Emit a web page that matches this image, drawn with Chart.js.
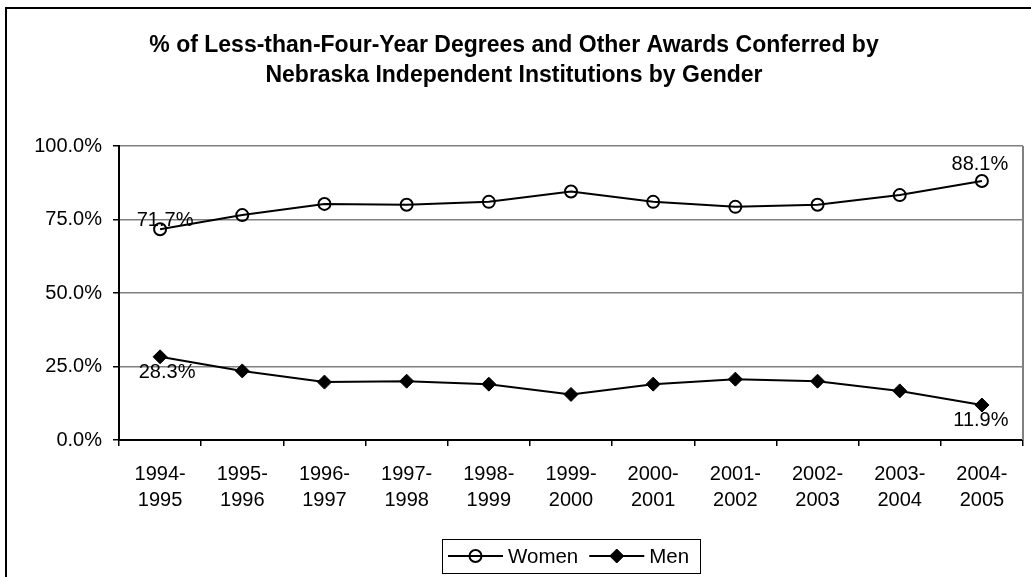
<!DOCTYPE html>
<html>
<head>
<meta charset="utf-8">
<script src="https://cdn.jsdelivr.net/npm/chart.js@4.4.0/dist/chart.umd.min.js"></script>
<style>
html, body { margin: 0; padding: 0; background: #fff; overflow: hidden; }
#wrap { position: relative; width: 1031px; height: 577px; overflow: hidden; }
#frame { position: absolute; left: 5px; top: 7px; width: 1100px; height: 700px; border-left: 2px solid #000; border-top: 2px solid #000; }
#chart { position: absolute; left: 0; top: 0; }
</style>
</head>
<body>
<div id="wrap">
  <div id="frame"></div>
  <canvas id="chart" width="1031" height="577"></canvas>
</div>
<script>
const FONT = "Arial, 'Liberation Sans', sans-serif";

// School years on the x axis (two-line labels)
const categories = [
    ['1994-', '1995'], ['1995-', '1996'], ['1996-', '1997'], ['1997-', '1998'],
    ['1998-', '1999'], ['1999-', '2000'], ['2000-', '2001'], ['2001-', '2002'],
    ['2002-', '2003'], ['2003-', '2004'], ['2004-', '2005']
];
// Share of awards, in percent
const women = [71.7, 76.5, 80.3, 80.0, 81.0, 84.5, 81.0, 79.3, 80.0, 83.3, 88.1];
const men = [28.3, 23.5, 19.7, 20.0, 19.0, 15.5, 19.0, 20.7, 20.0, 16.7, 11.9];
const yMin = 0, yMax = 100, yStep = 25;

const titleLines = [
    '% of Less-than-Four-Year Degrees and Other Awards Conferred by',
    'Nebraska Independent Institutions by Gender'
];

// Only the first and last points carry a value label
const labelSpecs = [
    { ds: 0, i: 0, dx: 5, dy: -9 },
    { ds: 0, i: 10, dx: -2, dy: -17 },
    { ds: 1, i: 0, dx: 7, dy: 16 },
    { ds: 1, i: 10, dx: -1, dy: 15 }
];

const plotFrame = {
    id: 'plotFrame',
    beforeDatasetsDraw(chart) {
        const a = chart.chartArea;
        const ctx = chart.ctx;
        ctx.save();
        ctx.strokeStyle = '#808080';
        ctx.lineWidth = 2;
        ctx.beginPath();
        ctx.moveTo(a.right, a.top);
        ctx.lineTo(a.right, a.bottom);
        ctx.stroke();
        ctx.restore();
    }
};

const valueLabels = {
    id: 'valueLabels',
    afterDatasetsDraw(chart) {
        const ctx = chart.ctx;
        ctx.save();
        ctx.font = '20px ' + FONT;
        ctx.fillStyle = '#000';
        ctx.textAlign = 'center';
        ctx.textBaseline = 'middle';
        labelSpecs.forEach(s => {
            const pt = chart.getDatasetMeta(s.ds).data[s.i];
            const v = chart.data.datasets[s.ds].data[s.i];
            ctx.fillText(v.toFixed(1) + '%', pt.x + s.dx, pt.y + s.dy);
        });
        ctx.restore();
    }
};

// Excel-style legend: line + marker samples inside a bordered box
const boxLegend = {
    id: 'boxLegend',
    afterDraw(chart) {
        const ctx = chart.ctx;
        const a = chart.chartArea;
        ctx.save();
        ctx.font = '20.5px ' + FONT;
        const sample = 55, gap = 5, itemGap = 11, padL = 6, padR = 11;
        const items = chart.data.datasets.map(d => ({ d, w: ctx.measureText(d.label).width }));
        let total = padL + padR;
        items.forEach((it, k) => { total += sample + gap + it.w + (k ? itemGap : 0); });
        const cx = (a.left + a.right) / 2;
        const cy = 556;
        const h = 34;
        let x = Math.round(cx - total / 2);
        ctx.strokeStyle = '#000';
        ctx.lineWidth = 1;
        ctx.strokeRect(x + 0.5, Math.round(cy - h / 2) + 0.5, Math.round(total), h);
        x += padL;
        items.forEach((it, k) => {
            if (k) x += itemGap;
            const d = it.d;
            ctx.strokeStyle = d.borderColor;
            ctx.lineWidth = d.borderWidth;
            ctx.beginPath();
            ctx.moveTo(x, cy);
            ctx.lineTo(x + sample, cy);
            ctx.stroke();
            ctx.fillStyle = d.pointBackgroundColor;
            ctx.strokeStyle = d.pointBorderColor;
            ctx.lineWidth = d.pointBorderWidth;
            Chart.helpers.drawPoint(ctx, {
                pointStyle: d.pointStyle,
                radius: d.pointRadius,
                borderWidth: d.pointBorderWidth,
                rotation: 0
            }, x + sample / 2, cy);
            ctx.fillStyle = '#000';
            ctx.textAlign = 'left';
            ctx.textBaseline = 'middle';
            ctx.fillText(d.label, x + sample + gap, cy + 1);
            x += sample + gap + it.w;
        });
        ctx.restore();
    }
};

const chart = new Chart(document.getElementById('chart'), {
    type: 'line',
    data: {
        labels: categories,
        datasets: [{
            label: 'Women',
            data: women,
            borderColor: '#000',
            borderWidth: 2,
            pointStyle: 'circle',
            pointRadius: 6,
            pointBorderWidth: 2,
            pointBorderColor: '#000',
            pointBackgroundColor: 'rgba(0,0,0,0)',
            tension: 0
        }, {
            label: 'Men',
            data: men,
            borderColor: '#000',
            borderWidth: 2,
            pointStyle: 'rectRot',
            pointRadius: 7,
            pointBorderWidth: 1,
            pointBorderColor: '#000',
            pointBackgroundColor: '#000',
            tension: 0
        }]
    },
    options: {
        responsive: false,
        animation: false,
        layout: { padding: { left: 0, right: 3, top: 0, bottom: 0 } },
        plugins: {
            legend: { display: false },
            tooltip: { enabled: false },
            title: {
                display: true,
                text: titleLines,
                color: '#000',
                font: { family: FONT, size: 23, weight: 'bold', lineHeight: 30 / 23 },
                padding: { top: 31, bottom: 55 }
            }
        },
        scales: {
            x: {
                offset: true,
                grid: {
                    offset: true,
                    drawOnChartArea: false,
                    drawTicks: true,
                    tickLength: 6,
                    tickColor: '#000',
                    lineWidth: 1.5
                },
                border: { color: '#000', width: 2 },
                ticks: {
                    color: '#000',
                    font: { family: FONT, size: 20, lineHeight: 1.33 },
                    padding: 15,
                    maxRotation: 0,
                    autoSkip: false
                },
                afterFit(scale) { scale.height = 137; }
            },
            y: {
                min: yMin,
                max: yMax,
                grid: {
                    color: '#808080',
                    lineWidth: 1.5,
                    tickLength: 6,
                    tickColor: '#000'
                },
                border: { color: '#000', width: 2 },
                ticks: {
                    stepSize: yStep,
                    color: '#000',
                    font: { family: FONT, size: 20 },
                    padding: 11,
                    callback: v => v.toFixed(1) + '%'
                },
                afterFit(scale) { scale.width = 119; }
            }
        }
    },
    plugins: [plotFrame, valueLabels, boxLegend]
});
</script>
</body>
</html>
